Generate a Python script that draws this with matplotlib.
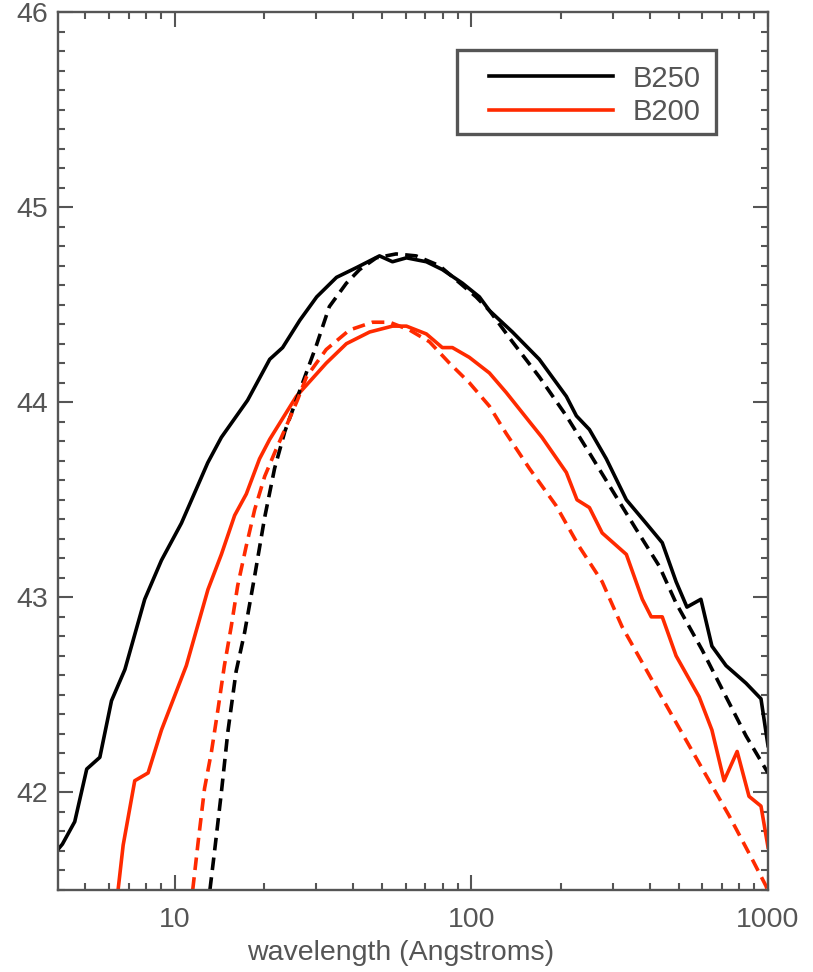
import matplotlib
matplotlib.use("Agg")
import matplotlib.pyplot as plt
from matplotlib.patches import Rectangle
from matplotlib.ticker import FixedLocator, LogLocator, NullFormatter, FixedFormatter

# ---------------- data ----------------
b250_wl = [4.0, 4.18, 4.60, 5.05, 5.59, 6.12, 6.79, 7.92, 9.02, 10.53, 12.92, 14.36,
           17.6, 20.9, 23.1, 26.4, 30.1, 35.1, 41.0, 49.0, 54.2, 60.4, 70.5, 79.8,
           93.3, 106.4, 115, 137.5, 169.4, 209, 226, 250, 285, 333, 388, 440, 490,
           533, 594, 647, 722, 843, 947, 1000]
b250_val = [41.70, 41.735, 41.85, 42.12, 42.18, 42.47, 42.63, 42.99, 43.19, 43.38, 43.69, 43.82,
            44.01, 44.22, 44.28, 44.42, 44.54, 44.64, 44.69, 44.75, 44.72, 44.74, 44.72, 44.68,
            44.61, 44.54, 44.47, 44.36, 44.22, 44.03, 43.93, 43.86, 43.71, 43.50, 43.38, 43.28, 43.08,
            42.95, 42.99, 42.75, 42.65, 42.56, 42.48, 42.24]

b200_wl = [6.33, 6.70, 7.33, 8.13, 9.02, 10.94, 12.94, 14.36, 15.92, 17.43, 19.31, 20.9,
           25.7, 32.4, 37.9, 45.4, 54.2, 60.4, 70.5, 79.8, 86.3, 98.4, 115, 131, 157, 173,
           209, 227, 250, 276, 333, 377, 404, 440, 490, 586, 647, 711, 787, 863, 947, 1000]
b200_val = [41.40, 41.73, 42.06, 42.10, 42.32, 42.65, 43.04, 43.22, 43.42, 43.53, 43.71, 43.81,
            44.03, 44.20, 44.30, 44.36, 44.39, 44.39, 44.35, 44.28, 44.28, 44.23, 44.15, 44.05, 43.90, 43.82,
            43.64, 43.50, 43.46, 43.33, 43.22, 42.99, 42.90, 42.90, 42.70, 42.49, 42.32, 42.06, 42.21, 41.98, 41.93, 41.72]

fit250_wl = [12.9, 13.6, 14.36, 15.1, 16.1, 17.2, 18.6, 20.1, 21.7, 23.5, 26.4, 30.0, 33.2,
             37.9, 42.0, 47.8, 55.7, 65.1, 78.0, 103.7, 115, 137.5, 169.4, 209, 250, 298,
             359, 430, 490, 600, 722, 843, 1000]
fit250_val = [41.40, 41.69, 42.00, 42.31, 42.62, 42.82, 43.11, 43.41, 43.66, 43.85, 44.06, 44.29, 44.49,
              44.61, 44.68, 44.74, 44.76, 44.75, 44.70, 44.54, 44.47, 44.31, 44.13, 43.93, 43.74, 43.55,
              43.35, 43.16, 42.97, 42.73, 42.49, 42.29, 42.10]

fit200_wl = [11.3, 12.0, 12.6, 13.3, 14.0, 14.7, 15.5, 16.3, 17.4, 18.6, 20.1, 21.7, 23.5, 25.9,
             27.8, 32.4, 38.8, 46.4, 53.0, 61.9, 72.2, 84.4, 98.4, 115, 131, 157, 193, 231,
             276, 322, 430, 586, 740, 883, 985, 1000]
fit200_val = [41.40, 41.75, 42.02, 42.21, 42.43, 42.65, 42.85, 43.06, 43.26, 43.45, 43.62, 43.74, 43.86, 44.01,
              44.13, 44.27, 44.37, 44.41, 44.41, 44.37, 44.31, 44.20, 44.10, 43.98, 43.84, 43.66, 43.47, 43.26,
              43.08, 42.85, 42.51, 42.15, 41.88, 41.66, 41.52, 41.49]

series_labels = ["B250", "B200"]
y_major = [42, 43, 44, 45, 46]
x_major = [10, 100, 1000]
x_major_labels = ["10", "100", "1000"]
xlabel_text = "wavelength (Angstroms)"

# ---------------- style ----------------
plt.rcParams['font.family'] = ['Liberation Sans', 'DejaVu Sans']
GRAY = '#555555'
RED = '#FF2A00'
LW = 2.6
DASH = (3.5, 2.0)

fig = plt.figure(figsize=(8.13, 9.72), dpi=100)
ax = fig.add_axes([58/813, 1-890/972, (768-58)/813, (890-12)/972])

ax.plot(b250_wl, b250_val, color='black', lw=LW, label=series_labels[0])
ax.plot(b200_wl, b200_val, color=RED, lw=LW, label=series_labels[1])
ax.plot(fit250_wl, fit250_val, color='black', lw=LW, linestyle=(0, DASH))
ax.plot(fit200_wl, fit200_val, color=RED, lw=LW, linestyle=(0, DASH))

ax.set_xscale('log')
ax.set_xlim(4.04, 1000)
ax.set_ylim(41.5, 46)

ax.xaxis.set_major_locator(FixedLocator(x_major))
ax.xaxis.set_major_formatter(FixedFormatter(x_major_labels))
ax.xaxis.set_minor_locator(LogLocator(base=10, subs=[2, 3, 4, 5, 6, 7, 8, 9]))
ax.xaxis.set_minor_formatter(NullFormatter())
ax.yaxis.set_major_locator(FixedLocator(y_major))
ax.yaxis.set_minor_locator(FixedLocator([41.5 + 0.1 * i for i in range(46)]))

for sp in ax.spines.values():
    sp.set_color(GRAY)
    sp.set_linewidth(1.7)

ax.tick_params(which='both', direction='in', top=True, right=True, color=GRAY,
               labelcolor=GRAY, labelsize=20.5, width=1.5)
ax.tick_params(which='major', length=11)
ax.tick_params(which='minor', length=5)
ax.tick_params(axis='x', which='major', pad=12)
ax.tick_params(axis='y', which='major', pad=7)
ax.tick_params(axis='y', which='both', labelright=False)

ax.set_xlabel(xlabel_text, fontsize=20.5, color=GRAY)
ax.xaxis.set_label_coords(0.482, -0.057)

# legend box (frame drawn separately to match the wide left padding)
box = Rectangle((0.562, 0.861), 0.927 - 0.562, 0.9567 - 0.861, transform=ax.transAxes,
                facecolor='white', edgecolor=GRAY, lw=2.4, zorder=5)
ax.add_patch(box)
leg = ax.legend(loc='center left', bbox_to_anchor=((489-58)/710, (890-95.5)/878),
                borderaxespad=0, fontsize=21, handlelength=4.25, handletextpad=0.69,
                labelspacing=0.2, borderpad=0.0, frameon=False)
leg.set_zorder(6)
for t in leg.get_texts():
    t.set_color(GRAY)

fig.savefig('out.png', dpi=100)
